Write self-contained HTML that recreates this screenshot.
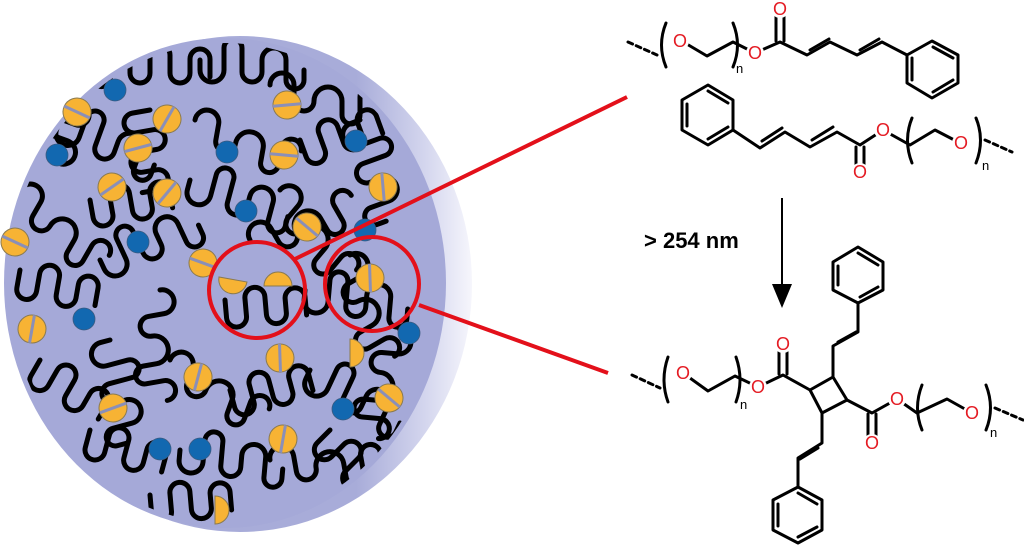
<!DOCTYPE html>
<html><head><meta charset="utf-8"><style>
html,body{margin:0;padding:0;background:#fff;width:1024px;height:546px;overflow:hidden}
svg{display:block}
.b{stroke:#000;stroke-width:3;fill:none;stroke-linecap:round;stroke-linejoin:round}
.o{font-family:"Liberation Sans",sans-serif;font-size:18px;fill:#e41b23;text-anchor:middle;dominant-baseline:central}
.n{font-family:"Liberation Sans",sans-serif;font-size:13px;fill:#000}
.ch{stroke:#000;stroke-width:5;fill:none;stroke-linecap:round;stroke-linejoin:round}
.wc{fill:#fff}
</style></head><body>
<svg width="1024" height="546" viewBox="0 0 1024 546" xmlns="http://www.w3.org/2000/svg">
<defs>
<linearGradient id="sph" x1="0" y1="0" x2="1" y2="0">
<stop offset="0.75" stop-color="#a8acd9"/><stop offset="0.9" stop-color="#d4d6ee"/><stop offset="1" stop-color="#f6f6fc"/>
</linearGradient>
<clipPath id="disk"><ellipse cx="225" cy="283" rx="216" ry="240"/></clipPath>
<g id="yc"><circle r="14" fill="#f7b334" stroke="#8a7a50" stroke-width="1"/><line x1="-14" y1="0" x2="14" y2="0" stroke="#8a8fb8" stroke-width="3"/></g>
<g id="bd"><circle r="11" fill="#1268b0" stroke="#3a5a80" stroke-width="0.8"/></g>
<path id="s1" d="M0 0 v18 a10 10 0 0 0 20 0 v-18 a10 10 0 0 1 20 0 v18 a10 10 0 0 0 20 0 v-14 a10 10 0 0 1 20 0 v18"/>
<path id="s2" d="M0 0 v10 a12 12 0 0 0 24 0 v-22 a9 9 0 0 1 18 0 v24 a10 10 0 0 0 20 0 v-12 a12 12 0 0 1 24 0 v20 a9 9 0 0 0 18 0 v-10"/>
<path id="s3" d="M0 0 a12 12 0 0 1 24 0 v16 a10 10 0 0 0 20 0 a14 14 0 0 1 28 0 v14 a9 9 0 0 0 18 0 v-18 a10 10 0 0 1 20 0"/>
</defs>
<ellipse cx="240" cy="284" rx="232" ry="248" fill="url(#sph)"/>
<ellipse cx="225" cy="283" rx="221" ry="245" fill="#a5a9d8"/>
<g clip-path="url(#disk)" class="ch">
<use href="#s1" x="130" y="55"/><use href="#s2" x="200" y="60"/><use href="#s3" x="270" y="85"/>
<use href="#s2" transform="translate(60,120) rotate(20)"/><use href="#s1" transform="translate(150,110) rotate(80)"/>
<use href="#s3" transform="translate(195,120) rotate(10)"/><use href="#s1" transform="translate(300,140) rotate(-20)"/>
<use href="#s2" transform="translate(360,120) rotate(70)"/><use href="#s3" transform="translate(20,190) rotate(30)"/>
<use href="#s1" transform="translate(90,200) rotate(-10)"/><use href="#s2" transform="translate(190,180) rotate(15)"/>
<use href="#s3" transform="translate(280,190) rotate(40)"/><use href="#s1" transform="translate(20,270) rotate(10)"/>
<use href="#s2" transform="translate(100,260) rotate(-25)"/><use href="#s3" transform="translate(160,290) rotate(80)"/>
<use href="#s1" transform="translate(225,300) rotate(-5)"/><use href="#s2" transform="translate(305,290) rotate(5)"/>
<use href="#s3" transform="translate(350,255) rotate(60)"/><use href="#s1" transform="translate(40,360) rotate(30)"/>
<use href="#s2" transform="translate(110,340) rotate(75)"/><use href="#s3" transform="translate(170,360) rotate(20)"/>
<use href="#s1" transform="translate(230,390) rotate(-15)"/><use href="#s2" transform="translate(310,370) rotate(25)"/>
<use href="#s3" transform="translate(400,330) rotate(95)"/><use href="#s1" transform="translate(90,430) rotate(15)"/>
<use href="#s2" transform="translate(180,450) rotate(5)"/><use href="#s3" transform="translate(270,460) rotate(-10)"/>
<use href="#s1" transform="translate(330,430) rotate(45)"/><use href="#s2" transform="translate(50,160) rotate(-70)"/>
<use href="#s3" transform="translate(250,240) rotate(-30)"/><use href="#s1" transform="translate(150,495) rotate(-5)"/>
</g>
<g>
<use href="#bd" x="115" y="90"/><use href="#bd" x="57" y="155"/><use href="#bd" x="227" y="152"/><use href="#bd" x="356" y="141"/><use href="#bd" x="246" y="211"/><use href="#bd" x="138" y="242"/><use href="#bd" x="365" y="230"/><use href="#bd" x="84" y="319"/><use href="#bd" x="409" y="333"/><use href="#bd" x="343" y="409"/><use href="#bd" x="160" y="449"/><use href="#bd" x="200" y="449"/>
<use href="#yc" transform="translate(77,112) rotate(25)"/><use href="#yc" transform="translate(167,119) rotate(-60)"/><use href="#yc" transform="translate(138,148) rotate(-15)"/><use href="#yc" transform="translate(287,105) rotate(-5)"/><use href="#yc" transform="translate(284,155) rotate(5)"/><use href="#yc" transform="translate(112,187) rotate(-35)"/><use href="#yc" transform="translate(167,193) rotate(-50)"/><use href="#yc" transform="translate(383,187) rotate(85)"/><use href="#yc" transform="translate(307,227) rotate(40)"/><use href="#yc" transform="translate(15,242) rotate(25)"/><use href="#yc" transform="translate(203,263) rotate(20)"/><use href="#yc" transform="translate(370,278) rotate(88)"/><use href="#yc" transform="translate(32,329) rotate(-80)"/><use href="#yc" transform="translate(280,358) rotate(88)"/><use href="#yc" transform="translate(198,377) rotate(-75)"/><use href="#yc" transform="translate(113,408) rotate(-20)"/><use href="#yc" transform="translate(389,398) rotate(40)"/><use href="#yc" transform="translate(283,439) rotate(-80)"/>
<path d="M264 286 A14 14 0 0 1 292 286 Z" fill="#f7b334" stroke="#8a7a50"/>
<path d="M219 277 A14 14 0 0 0 247 282 Z" fill="#f7b334" stroke="#8a7a50"/>
<path d="M350 339 A14 14 0 0 1 350 367 Z" fill="#f7b334" stroke="#8a7a50"/>
<path d="M215 496 A14 14 0 0 1 215 524 Z" fill="#f7b334" stroke="#8a7a50"/>
</g>
<g stroke="#e3101a" stroke-width="4" fill="none">
<circle cx="257" cy="290" r="48"/><circle cx="372" cy="284" r="47"/>
<line x1="293" y1="260" x2="627" y2="97"/><line x1="419" y1="305" x2="608" y2="373"/>
</g>
<line x1="782" y1="198" x2="782" y2="290" stroke="#000" stroke-width="2"/>
<path d="M772 284 L782 308 L792 284 Z" fill="#000"/>
<text x="644" y="248" font-family="Liberation Sans,sans-serif" font-weight="bold" font-size="22">&gt; 254 nm</text>

<g class="b">
<path d="M628 42 L657 55" stroke-dasharray="5,4"/>
<path d="M666 23 Q657 45 666 67"/><path d="M733 23 Q742 45 733 67"/>
<path d="M680 40 L707 56 L733 42 L755 53"/>
<path d="M755 53 L780 42 L807 55 L830 42 L857 55 L882 42 L907 55"/>
<path d="M776 41 V16 M784 41 V16"/>
<path d="M810 50 L829 39"/><path d="M860 50 L879 39"/>
<path d="M907 55 L932 41 L958 55 L958 83 L932 98 L907 83 Z"/>
<path d="M933 47 L953 58 M953 80 L933 92 M912 80 V58"/>
</g>
<g class="b">
<path d="M682 100 L708 85 L733 100 L733 130 L708 145 L682 130 Z"/>
<path d="M708 91 L728 103 M728 127 L708 139 M687 126 V104"/>
<path d="M733 130 L760 148 L785 132 L810 147 L837 132 L860 145 L883 130"/>
<path d="M762 141 L782 128 M812 140 L833 127"/>
<path d="M856 147 V165 M864 147 V165"/>
<path d="M883 130 L910 145 L935 130 L960 143"/>
<path d="M912 118 Q903 140 912 163"/><path d="M976 118 Q985 140 976 163"/>
<path d="M985 140 L1012 152" stroke-dasharray="5,4"/>
</g>
<g class="b">
<path d="M632 375 L660 388" stroke-dasharray="5,4"/>
<path d="M668 357 Q660 380 668 402"/><path d="M736 357 Q744 380 736 402"/>
<path d="M683 373 L708 391 L735 376 L758 387"/>
<path d="M758 387 L783 375 L810 390"/>
<path d="M779 374 V352 M787 374 V352"/>
<path d="M810 390 L833 377 L847 400 L822 413 Z"/>
<path d="M833 377 V346 L858 332 V303"/><path d="M838 342 L856 332"/>
<path d="M858 303 L883 290 L883 262 L858 247 L833 262 L833 290 Z"/>
<path d="M858 253 L878 265 M878 287 L860 297 M838 285 V266"/>
<path d="M847 400 L872 413 L897 399"/>
<path d="M868 414 V436 M876 414 V436"/>
<path d="M897 399 L917 413 L947 399 L972 413"/>
<path d="M922 385 Q913 408 922 430"/><path d="M986 385 Q995 408 986 430"/>
<path d="M995 408 L1023 420" stroke-dasharray="5,4"/>
<path d="M822 413 V443 L798 458 V487"/><path d="M818 448 L800 459"/>
<path d="M798 487 L822 500 L822 530 L798 543 L773 530 L773 500 Z"/>
<path d="M798 493 L817 504 M817 527 L798 537 M778 526 V504"/>
</g>
<g class="wc">
<circle cx="680" cy="41" r="9"/><circle cx="755" cy="53" r="9"/><circle cx="780" cy="9" r="9"/>
<circle cx="883" cy="130" r="9"/><circle cx="860" cy="172" r="9"/><circle cx="961" cy="143" r="9"/>
<circle cx="683" cy="373" r="9"/><circle cx="758" cy="387" r="9"/><circle cx="783" cy="344" r="9"/>
<circle cx="897" cy="399" r="9"/><circle cx="872" cy="443" r="9"/><circle cx="972" cy="413" r="9"/>
</g>
<text class="o" x="680" y="41">O</text><text class="o" x="755" y="53">O</text><text class="o" x="780" y="9">O</text>
<text class="n" x="736" y="73">n</text>
<text class="o" x="883" y="130">O</text><text class="o" x="860" y="172">O</text><text class="o" x="961" y="143">O</text>
<text class="n" x="982" y="170">n</text>
<text class="o" x="683" y="373">O</text><text class="o" x="758" y="387">O</text><text class="o" x="783" y="344">O</text>
<text class="o" x="897" y="399">O</text><text class="o" x="872" y="443">O</text><text class="o" x="972" y="413">O</text>
<text class="n" x="740" y="409">n</text><text class="n" x="990" y="437">n</text>
</svg>
</body></html>
